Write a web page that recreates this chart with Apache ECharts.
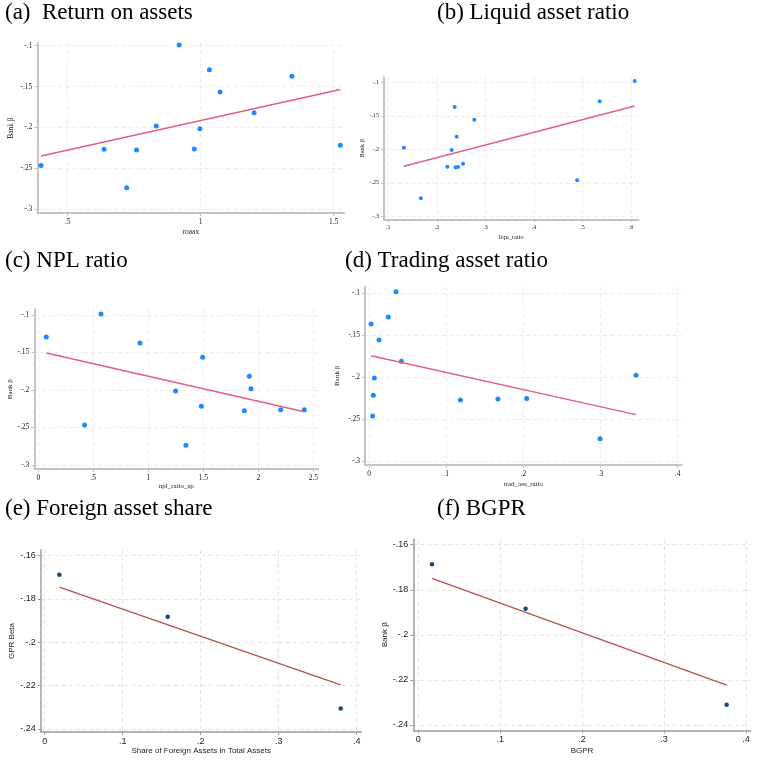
<!DOCTYPE html>
<html>
<head>
<meta charset="utf-8">
<script src="https://cdn.jsdelivr.net/npm/echarts@6/dist/echarts.min.js"></script>
<style>
  html, body { margin: 0; padding: 0; background: #fff; }
  #main { width: 766px; height: 762px; }
</style>
</head>
<body>
<div id="main"></div>
<script>
// Bank beta of the 13 banks, read against each characteristic
var roaX    = [0.400, 0.637, 0.722, 0.759, 0.833, 0.919, 0.976, 0.997, 1.033, 1.073, 1.201, 1.343, 1.525];
var roaBeta = [-0.2466, -0.2267, -0.2735, -0.2275, -0.1982, -0.0992, -0.2263, -0.2014, -0.1293, -0.1566, -0.1819, -0.1375, -0.2218];
var roaFitX = [0.400, 1.525];
var roaFitY = [-0.2348, -0.1535];

var liquX    = [0.132, 0.167, 0.2216, 0.2305, 0.2367, 0.2387, 0.2435, 0.2408, 0.2538, 0.277, 0.489, 0.5354, 0.6076];
var liquBeta = [-0.1975, -0.2731, -0.2259, -0.201, -0.1368, -0.2269, -0.2264, -0.1811, -0.2214, -0.1557, -0.2463, -0.1284, -0.098];
var liquFitX = [0.132, 0.6076];
var liquFitY = [-0.2254, -0.1353];

var nplX    = [0.073, 0.421, 0.570, 0.924, 1.248, 1.342, 1.482, 1.494, 1.873, 1.918, 1.933, 2.203, 2.418];
var nplBeta = [-0.1293, -0.2467, -0.0987, -0.1373, -0.2013, -0.2738, -0.2218, -0.1564, -0.2276, -0.1818, -0.1982, -0.2262, -0.2262];
var nplFitX = [0.073, 2.418];
var nplFitY = [-0.1507, -0.2289];

var tradX    = [0.0026, 0.0048, 0.0056, 0.0069, 0.013, 0.025, 0.035, 0.0419, 0.1184, 0.167, 0.2043, 0.2994, 0.346];
var tradBeta = [-0.1366, -0.2463, -0.2217, -0.201, -0.1557, -0.1282, -0.098, -0.1811, -0.2272, -0.226, -0.2256, -0.2734, -0.1978];
var tradFitX = [0.0026, 0.346];
var tradFitY = [-0.1744, -0.2447];

var foreignX    = [0.0188, 0.1577, 0.3795];
var foreignBeta = [-0.1688, -0.1882, -0.2306];
var foreignFitX = [0.0188, 0.3795];
var foreignFitY = [-0.1746, -0.2197];

var bgprX    = [0.0167, 0.131, 0.3764];
var bgprBeta = [-0.1687, -0.1884, -0.2311];
var bgprFitX = [0.0167, 0.3764];
var bgprFitY = [-0.1749, -0.2223];

// tick labels
var betaTicks    = [-0.3, -0.25, -0.2, -0.15, -0.1];
var roaTicks     = [0.5, 1, 1.5];
var liquTicks    = [0.1, 0.2, 0.3, 0.4, 0.5, 0.6];
var nplTicks     = [0, 0.5, 1, 1.5, 2, 2.5];
var tradTicks    = [0, 0.1, 0.2, 0.3, 0.4];
var shareTicks   = [0, 0.1, 0.2, 0.3, 0.4];
var betaTicksEF  = [-0.24, -0.22, -0.2, -0.18, -0.16];

var titles = ['(a)  Return on assets', '(b) Liquid asset ratio', '(c) NPL ratio',
              '(d) Trading asset ratio', '(e) Foreign asset share', '(f) BGPR'];

function pairs(xs, ys) {
    return xs.map(function (x, i) { return [x, ys[i]]; });
}

// Stata style: -.15, .5, 0, 1.5
function stataFmt(v) {
    var s = String(+Number(v).toFixed(3));
    return s.replace(/^(-?)0\./, '$1.');
}

var SERIF = '"Liberation Serif", "Times New Roman", serif';
var SANS = '"Liberation Sans", Arial, sans-serif';

// panel layout and style (grid in px, ranges of the axes)
var panels = [
    { grid: [37.3, 43.2, 307, 169.8], x: [0.386, 1.54], y: [-0.3045, -0.097],
      xt: roaTicks, yt: betaTicks, pts: pairs(roaX, roaBeta), fit: pairs(roaFitX, roaFitY),
      xName: 'roaax', yName: 'Bank β', xGap: 15, yGap: 22, style: 'a', fs: 7.5, ns: 7.5, sym: 5 },
    { grid: [384, 77.3, 254.3, 142], x: [0.091, 0.615], y: [-0.3045, -0.0925],
      xt: liquTicks, yt: betaTicks, pts: pairs(liquX, liquBeta), fit: pairs(liquFitX, liquFitY),
      xName: 'liqu_ratio', yName: 'Bank β', xGap: 14, yGap: 17, style: 'a', fs: 6, ns: 6.5, sym: 4 },
    { grid: [34.3, 309.3, 284, 159.7], x: [-0.036, 2.545], y: [-0.3053, -0.0924],
      xt: nplTicks, yt: betaTicks, pts: pairs(nplX, nplBeta), fit: pairs(nplFitX, nplFitY),
      xName: 'npl_ratio_sp', yName: 'Bank β', xGap: 14, yGap: 20, style: 'a', fs: 7.5, ns: 7, sym: 5 },
    { grid: [365, 286.7, 316.7, 178.3], x: [-0.0052, 0.4052], y: [-0.3048, -0.0921],
      xt: tradTicks, yt: betaTicks, pts: pairs(tradX, tradBeta), fit: pairs(tradFitX, tradFitY),
      xName: 'trad_ass_ratio', yName: 'Bank β', xGap: 16, yGap: 24, style: 'a', fs: 7.5, ns: 7, sym: 5 },
    { grid: [40.7, 550, 321, 182], x: [-0.0051, 0.4064], y: [-0.2415, -0.1574],
      xt: shareTicks, yt: betaTicksEF, pts: pairs(foreignX, foreignBeta), fit: pairs(foreignFitX, foreignFitY),
      xName: 'Share of Foreign Assets in Total Assets', yName: 'GPR Beta', xGap: 14, yGap: 24, style: 'e', fs: 9, ns: 8, sym: 4.5 },
    { grid: [413.3, 539.3, 337.4, 191], x: [-0.0061, 0.4058], y: [-0.2424, -0.1576],
      xt: shareTicks, yt: betaTicksEF, pts: pairs(bgprX, bgprBeta), fit: pairs(bgprFitX, bgprFitY),
      xName: 'BGPR', yName: 'Bank β', xGap: 16, yGap: 25, style: 'e', fs: 9, ns: 8, sym: 4.5 }
];

var titlePos = [[5, 1], [437, 1], [5, 249], [345, 249], [5, 497], [437, 497]];

var looks = {
    a: { font: SERIF, axis: '#c4c4c4', axisW: 2, split: '#ececec', dot: '#1e88ff', line: '#e35f84', lineW: 1.5 },
    e: { font: SANS, axis: '#9c9c9c', axisW: 1.5, split: '#e3e3e3', dot: '#1a476f', line: '#b5524f', lineW: 1.3 }
};

var option = { animation: false, backgroundColor: '#ffffff', title: [], grid: [], xAxis: [], yAxis: [], series: [] };

titles.forEach(function (t, i) {
    option.title.push({
        text: t, left: titlePos[i][0], top: titlePos[i][1], padding: 0,
        textStyle: { fontFamily: SERIF, fontSize: 23, fontWeight: 'normal', color: '#000' }
    });
});

panels.forEach(function (p, i) {
    var lk = looks[p.style];
    option.grid.push({ left: p.grid[0], top: p.grid[1], width: p.grid[2], height: p.grid[3], containLabel: false });
    var common = {
        gridIndex: i,
        type: 'value',
        nameLocation: 'middle',
        nameTextStyle: { fontFamily: lk.font, fontSize: p.ns, color: '#222' },
        axisLine: { show: true, onZero: false, lineStyle: { color: lk.axis, width: lk.axisW } },
        axisTick: { show: true, length: 3, lineStyle: { color: lk.axis } },
        axisLabel: { fontFamily: lk.font, fontSize: p.fs, color: '#222', formatter: stataFmt },
        splitLine: { show: true, lineStyle: { color: lk.split, type: [4, 3], width: 1 } }
    };
    option.xAxis.push(Object.assign({}, common, {
        min: p.x[0], max: p.x[1], name: p.xName, nameGap: p.xGap,
        axisTick: Object.assign({}, common.axisTick, { customValues: p.xt }),
        axisLabel: Object.assign({}, common.axisLabel, { customValues: p.xt, margin: 5 })
    }));
    option.yAxis.push(Object.assign({}, common, {
        min: p.y[0], max: p.y[1], name: p.yName, nameGap: p.yGap, nameRotate: 90,
        axisTick: Object.assign({}, common.axisTick, { customValues: p.yt }),
        axisLabel: Object.assign({}, common.axisLabel, { customValues: p.yt, margin: 5 })
    }));
    option.series.push({
        type: 'scatter', xAxisIndex: i, yAxisIndex: i, data: p.pts,
        symbolSize: p.sym, itemStyle: { color: lk.dot, opacity: 1 }
    });
    option.series.push({
        type: 'line', xAxisIndex: i, yAxisIndex: i, data: p.fit,
        showSymbol: false, symbol: 'none',
        lineStyle: { color: lk.line, width: lk.lineW }
    });
});

var chart = echarts.init(document.getElementById('main'));
chart.setOption(option);
</script>
</body>
</html>
